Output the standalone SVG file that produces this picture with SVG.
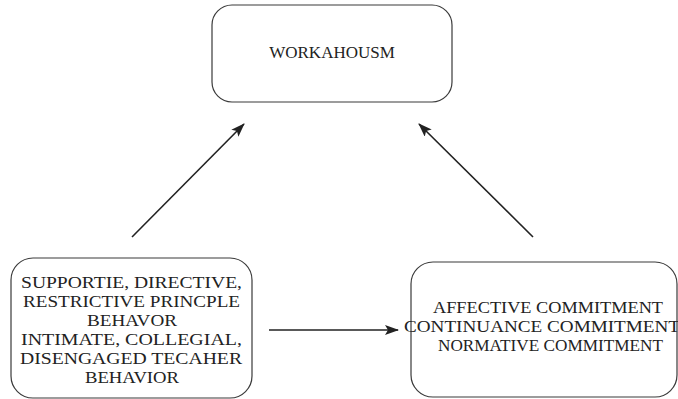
<svg xmlns="http://www.w3.org/2000/svg" width="678" height="399" viewBox="0 0 678 399">
<style>
.box{fill:#fff;stroke:#3a3a3a;stroke-width:1.2}
.t{font-family:"Liberation Serif","Times New Roman",serif;font-size:17px;fill:#222}
.c{stroke:#222;stroke-width:1.6;fill:none}
</style>
<defs>
<marker id="ah" viewBox="0 0 14 10" refX="13" refY="5" markerWidth="14" markerHeight="10" markerUnits="userSpaceOnUse" orient="auto">
<path d="M0,0 L14,5 L0,10 L3,5 Z" fill="#222"/>
</marker>
</defs>
<rect width="678" height="399" fill="#fff"/>
<g id="node-workahousm">
<rect class="box" x="212" y="5" width="240" height="97" rx="20"/>
<text class="t" x="332" y="58" text-anchor="middle">WORKAHOUSM</text>
</g>
<g id="node-behavior">
<rect class="box" x="11" y="258" width="241" height="140" rx="22"/>
<text class="t" x="21" y="288" textLength="221" lengthAdjust="spacingAndGlyphs">SUPPORTIE, DIRECTIVE,</text>
<text class="t" x="23" y="307" textLength="217" lengthAdjust="spacingAndGlyphs">RESTRICTIVE PRINCPLE</text>
<text class="t" x="87" y="326" textLength="90" lengthAdjust="spacingAndGlyphs">BEHAVOR</text>
<text class="t" x="21" y="345" textLength="221" lengthAdjust="spacingAndGlyphs">INTIMATE, COLLEGIAL,</text>
<text class="t" x="20" y="364" textLength="222" lengthAdjust="spacingAndGlyphs">DISENGAGED TECAHER</text>
<text class="t" x="85" y="383" textLength="94" lengthAdjust="spacingAndGlyphs">BEHAVIOR</text>
</g>
<g id="node-commitment">
<rect class="box" x="411" y="262" width="266" height="135" rx="22"/>
<text class="t" x="433" y="313" textLength="230" lengthAdjust="spacingAndGlyphs">AFFECTIVE COMMITMENT</text>
<text class="t" x="404" y="332" textLength="276" lengthAdjust="spacingAndGlyphs">CONTINUANCE COMMITMENT</text>
<text class="t" x="438" y="351" textLength="225" lengthAdjust="spacingAndGlyphs">NORMATIVE COMMITMENT</text>
</g>
<g id="connectors">
<line class="c" x1="132" y1="237" x2="244" y2="124" marker-end="url(#ah)"/>
<line class="c" x1="533" y1="237" x2="419" y2="124" marker-end="url(#ah)"/>
<line class="c" x1="269" y1="330" x2="398" y2="330" marker-end="url(#ah)"/>
</g>
</svg>
